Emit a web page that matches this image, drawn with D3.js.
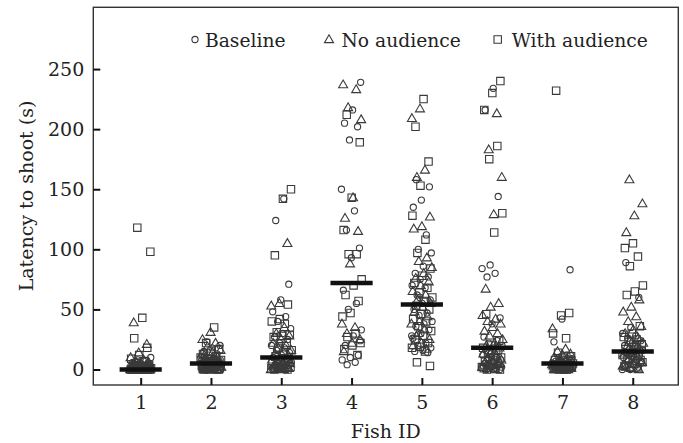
<!DOCTYPE html>
<html><head><meta charset="utf-8">
<script src="https://cdn.jsdelivr.net/npm/d3@7"></script>
<style>html,body{margin:0;padding:0;background:#fff;}svg{display:block;}</style>
</head><body>
<svg id="chart" width="683" height="443"></svg>
<script>
// ---- data ----
const fishIds = [1, 2, 3, 4, 5, 6, 7, 8];
const conditions = ["Baseline", "No audience", "With audience"];
const yTicks = [0, 50, 100, 150, 200, 250];
const medians = [0, 5, 10, 72, 54, 18, 5, 15];

const baseline = [
  [0,0,0,0,0,0,1,1,1,1,2,2,2,3,3,4,4,5,6,7,8,10,0,1,2,0,0,1,0,0,1,2,3,0,1,0,2,0,1,0],
  [23,20,18,15,13,12,10,9,8,7,6,6,5,5,4,4,3,3,2,2,1,1,0,0,0,11,7,3,5,4,3,2,1,0,6,8,2,1],
  [142,124,71,58,48,44,40,34,30,27,25,22,20,18,16,14,12,10,9,8,6,5,4,3,2,1,0,0,5,3,1,7,2],
  [239,216,205,202,191,150,132,116,101,93,66,55,50,33,28,20,12,10,8,6,4,24],
  [158,152,141,135,112,100,97,86,80,77,75,70,68,62,58,55,50,47,45,40,38,36,33,30,26,22,20,18,16,15,14,60,28],
  [234,216,144,87,84,80,77,43,38,27,24,22,20,18,16,15,13,12,10,9,8,6,5,4,3,2,1,0,0,11,3,1,5,2],
  [83,42,23,12,10,9,8,7,6,6,5,5,4,4,3,3,2,2,1,1,0,0,0,5,2,1,8,0,1,2,3,4,0,1,2,6,3],
  [89,60,35,30,28,26,24,22,20,18,17,16,15,14,12,11,10,8,7,6,4,3,2,0,0,22,13,5,9,3,1,12]
];
const noAudience = [
  [39,21,14,10,8,7,6,5,4,3,3,2,2,1,1,1,0,0,0,0,2,4,0,1,0,1,0,2,0,3,1,0,0,1],
  [31,25,22,19,16,14,12,10,9,8,7,6,5,4,4,3,2,2,1,1,0,0,13,5,3,2,1,0,6,4],
  [105,55,53,35,30,28,25,22,20,18,16,15,13,12,10,8,7,6,5,4,3,2,1,0,0,3,1,2],
  [237,233,218,208,143,126,115,88,38,35,30,25,22,15],
  [217,209,166,160,127,119,117,93,90,85,80,76,73,70,65,62,58,55,52,48,44,40,38,33,28,25,22,20,17,30],
  [213,183,160,129,67,55,52,45,42,40,38,35,32,30,28,25,22,20,18,15,13,12,10,8,7,6,4,3,2,0,1,5],
  [34,17,15,13,12,10,9,8,6,5,5,4,3,3,2,2,1,1,0,0,7,4,0,1,2,3,0,1,5],
  [158,138,128,114,58,52,48,44,40,36,33,30,26,24,22,20,19,17,16,13,11,9,6,4,2,0,1,3,7]
];
const withAudience = [
  [118,98,43,26,18,12,9,7,5,4,3,3,2,2,1,1,0,0,0,0,1,5,0,0,1,0,2,0,1,0,3],
  [35,22,17,15,13,11,9,8,7,6,5,4,3,3,2,1,1,0,0,0,10,4,2,0,6,1],
  [150,142,95,54,42,40,38,31,29,28,27,22,18,16,14,11,9,7,5,4,3,2,1,0,0,2,1],
  [212,189,143,116,96,96,75,70,62,57,47,44,30,27,22,20,17,12],
  [225,202,173,153,128,108,97,84,78,72,68,64,60,57,53,50,46,42,40,36,32,28,25,22,19,18,15,6,3],
  [240,230,216,186,175,130,114,46,24,20,18,16,13,10,8,7,5,3,2,1,0,0,4,1],
  [232,47,45,30,26,14,11,10,8,7,6,5,4,3,2,1,1,0,0,3,0,2,1,4],
  [105,101,94,86,70,65,62,36,30,27,25,23,21,19,17,15,14,12,11,9,8,5,3,1,2,6]
];
const seriesValues = [baseline, noAudience, withAudience];

// ---- layout ----
const svg = d3.select("#chart");
const L = 93.3, R = 678.3, T = 7.3, B = 385;
const x = d3.scaleLinear().domain([0.326, 8.648]).range([L, R]);
const y = d3.scaleLinear().domain([-12.9, 301.4]).range([B, T]);
const FONT = "'DejaVu Serif', 'Liberation Serif', serif";
const markColor = "#3a3a3a";

function markerPath(kind) {
  if (kind === 0) { const r = 3.1; return `M${r},0A${r},${r} 0 1,1 ${-r},0A${r},${r} 0 1,1 ${r},0Z`; }
  if (kind === 1) { const s = 9, h = 7.8; return `M0,${-h*0.6}L${s/2},${h*0.4}L${-s/2},${h*0.4}Z`; }
  const a = 3.7; return `M${-a},${-a}H${a}V${a}H${-a}Z`;
}

// points
const pts = [];
fishIds.forEach((f, fi) => {
  seriesValues.forEach((ser, ci) => {
    ser[fi].forEach((v, i) => {
      const fr = ((i * 0.618034 + fi * 0.31 + ci * 0.17) % 1);
      pts.push({ fish: f, cond: ci, value: v, jit: (fr - 0.5) * 0.3 });
    });
  });
});
const g = svg.append("g");
g.selectAll("path.pt").data(pts).join("path")
  .attr("class", "pt")
  .attr("d", d => markerPath(d.cond))
  .attr("transform", d => `translate(${x(d.fish + d.jit)},${y(d.value)})`)
  .attr("fill", "none")
  .attr("stroke", markColor)
  .attr("stroke-width", 1.1);

// median bars
svg.append("g").selectAll("line").data(medians).join("line")
  .attr("x1", (d, i) => x(fishIds[i] - 0.3))
  .attr("x2", (d, i) => x(fishIds[i] + 0.3))
  .attr("y1", d => y(d)).attr("y2", d => y(d))
  .attr("stroke", "#111").attr("stroke-width", 4.5);

// frame
svg.append("rect").attr("x", L).attr("y", T).attr("width", R - L).attr("height", B - T)
  .attr("fill", "none").attr("stroke", "#333").attr("stroke-width", 1.4);

// axes
const yAxis = d3.axisLeft(y).tickValues(yTicks).tickSize(-7).tickPadding(9);
const gy = svg.append("g").attr("transform", `translate(${L},0)`).call(yAxis);
const xAxis = d3.axisBottom(x).tickValues(fishIds).tickSize(-7).tickPadding(11);
const gx = svg.append("g").attr("transform", `translate(0,${B})`).call(xAxis);
[gy, gx].forEach(ga => {
  ga.select(".domain").remove();
  ga.selectAll(".tick line").attr("stroke", "#111").attr("stroke-width", 2);
  ga.selectAll(".tick text").attr("font-family", FONT).attr("font-size", 19).attr("fill", "#222");
});
gx.selectAll(".tick text").attr("dy", "0.71em");

// axis titles
svg.append("text").attr("x", 385.8).attr("y", 437.5).attr("text-anchor", "middle")
  .attr("font-family", FONT).attr("font-size", 19).attr("fill", "#222").text("Fish ID");
svg.append("text").attr("transform", "translate(33,196) rotate(-90)").attr("text-anchor", "middle")
  .attr("font-family", FONT).attr("font-size", 19).attr("fill", "#222").text("Latency to shoot (s)");

// legend
const legendPos = [[195, 205], [329, 341.5], [497.7, 511.7]];
const lg = svg.append("g");
conditions.forEach((c, ci) => {
  lg.append("path").attr("d", markerPath(ci))
    .attr("transform", `translate(${legendPos[ci][0]},39.5)`)
    .attr("fill", "none").attr("stroke", markColor).attr("stroke-width", 1.1);
  lg.append("text").attr("x", legendPos[ci][1]).attr("y", 47)
    .attr("font-family", FONT).attr("font-size", 18.7).attr("fill", "#222").text(c);
});
</script>
</body></html>
